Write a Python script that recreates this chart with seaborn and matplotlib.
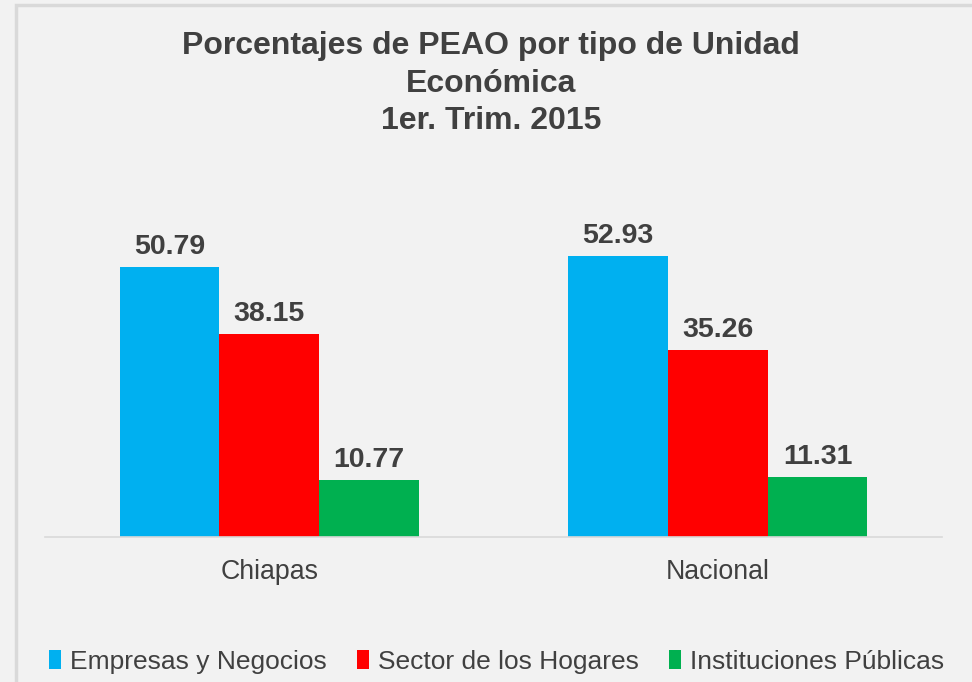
import pandas as pd
import numpy as np
import matplotlib.pyplot as plt
from matplotlib.patches import Rectangle
import seaborn as sns

regiones = ['Chiapas', 'Nacional']
tipos = ['Empresas y Negocios', 'Sector de los Hogares', 'Instituciones Públicas']
empresas = [50.79, 52.93]
hogares = [38.15, 35.26]
instituciones = [10.77, 11.31]
colores = ['#00b0f0', '#ff0000', '#00b050']

df = pd.DataFrame({
    'region': regiones * 3,
    'tipo': [tipos[0]] * 2 + [tipos[1]] * 2 + [tipos[2]] * 2,
    'valor': empresas + hogares + instituciones,
})

sns.set_style('white')
plt.rcParams['font.family'] = ['Liberation Sans', 'DejaVu Sans']
gris = '#404040'

fig = plt.figure(figsize=(9.72, 6.82), dpi=100, facecolor='#f2f2f2')
ax = fig.add_axes([0.0463, 0.2126, 0.923, 0.4677])
ax.set_facecolor('#f2f2f2')

sns.barplot(data=df, x='region', y='valor', hue='tipo', palette=colores,
            width=0.667, gap=0, saturation=1, linewidth=0, ax=ax, legend=True)

for cont in ax.containers:
    ax.bar_label(cont, fmt='%.2f', padding=5, fontsize=20.5, fontweight='bold', color=gris)

ax.set_ylim(0, 60)
ax.set_xlim(-0.5, 1.5)
ax.set_xlabel('')
ax.set_ylabel('')
ax.set_yticks([])
for s in ['left', 'right', 'top']:
    ax.spines[s].set_visible(False)
ax.spines['bottom'].set_color('#d9d9d9')
ax.spines['bottom'].set_linewidth(1.2)
ax.tick_params(axis='x', length=0, labelsize=19.3, labelcolor=gris, pad=16)
ax.set_xticks([-0.5, 0.5, 1.5], minor=True)
ax.tick_params(axis='x', which='minor', length=5, color='#d9d9d9', width=1.2)

ax.legend(loc='center', bbox_to_anchor=(0.511, 0.03), bbox_transform=fig.transFigure,
          ncol=3, frameon=False, fontsize=19, labelcolor=gris,
          handlelength=0.45, handleheight=0.7, handletextpad=0.35, columnspacing=1.15)

fig.text(0.505, 0.877, 'Porcentajes de PEAO por tipo de Unidad\nEconómica\n1er. Trim. 2015',
         ha='center', va='center', fontsize=23, fontweight='bold', color=gris,
         linespacing=1.33)

fig.patches.append(Rectangle((16 / 972, -0.1), 1.2, 1 - 5 / 682 + 0.1, transform=fig.transFigure,
                             fill=False, edgecolor='#d9d9d9', linewidth=2.5))

fig.savefig('out.png', dpi=100, facecolor=fig.get_facecolor())
